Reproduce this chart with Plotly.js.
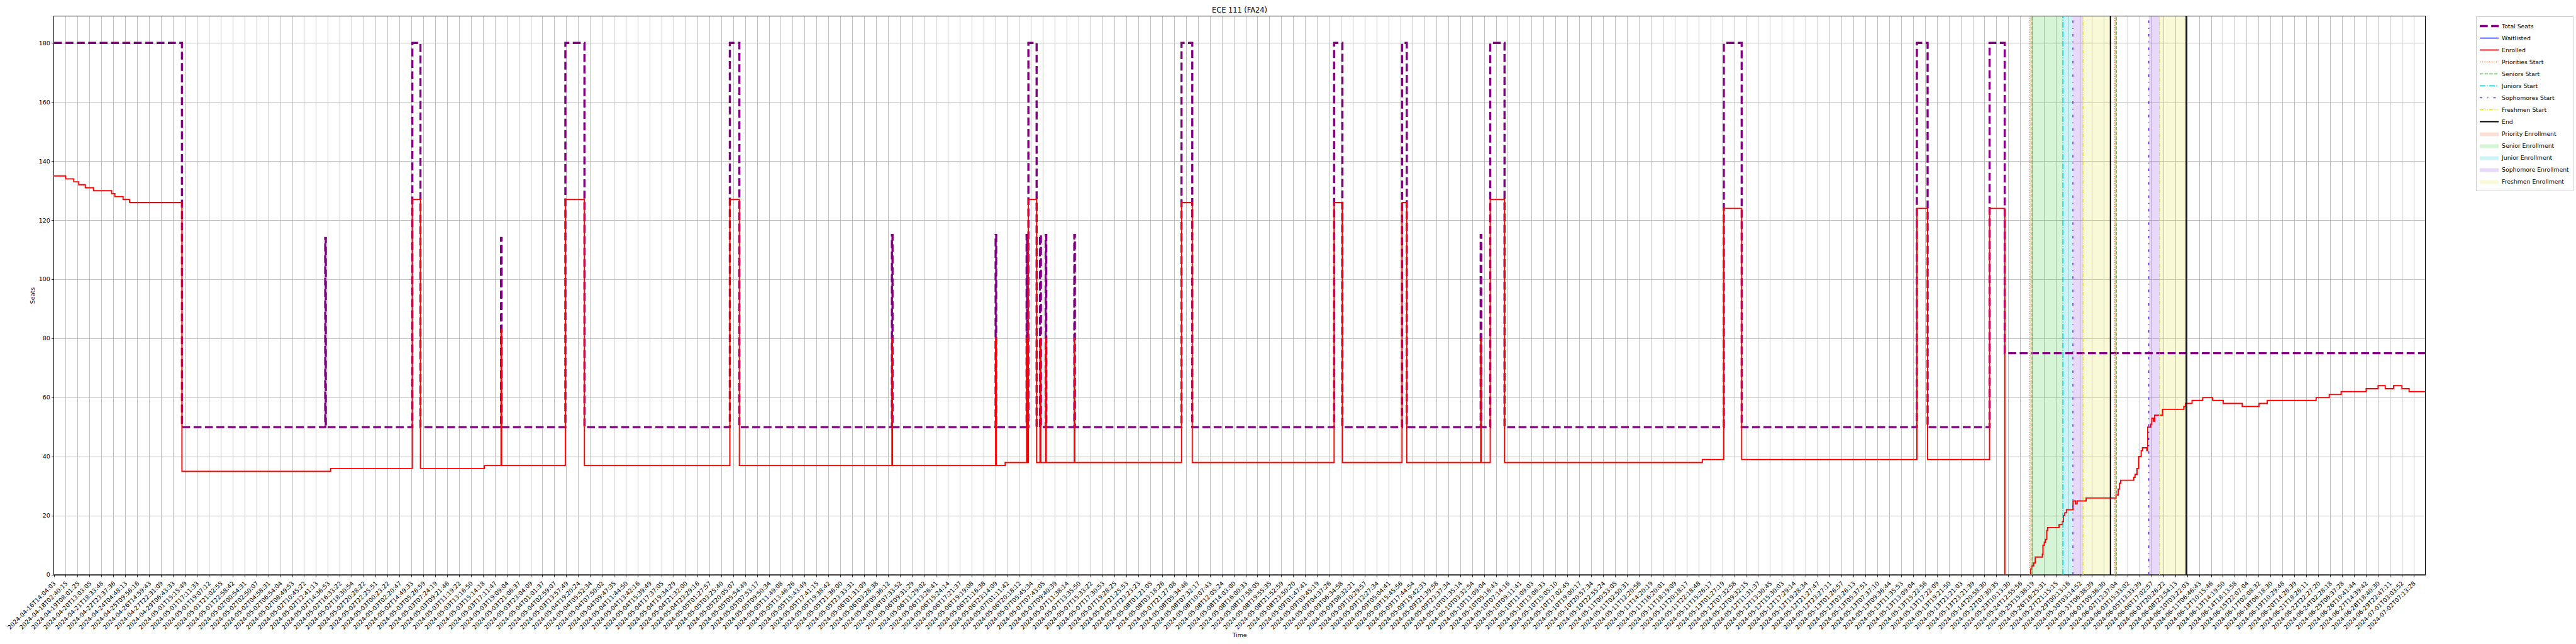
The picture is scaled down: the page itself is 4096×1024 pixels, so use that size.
<!DOCTYPE html>
<html><head><meta charset="utf-8">
<script src="https://cdn.plot.ly/plotly-3.0.1.min.js"></script>
<style>html,body{margin:0;padding:0;background:#fff}#chart{width:4096px;height:1024px}</style>
</head><body><div id="chart"></div>
<script>
const tickLabels = [
"2024-04-16T14:04:03","2024-04-18T02:40:15","2024-04-19T08:01:25","2024-04-20T13:03:05","2024-04-21T18:33:48","2024-04-22T23:37:36","2024-04-24T04:48:13","2024-04-25T09:56:16","2024-04-26T14:59:43","2024-04-27T22:31:09","2024-04-29T06:43:33","2024-05-01T15:15:49","2024-05-01T17:11:33","2024-05-01T19:07:12","2024-05-01T21:02:55","2024-05-01T22:58:42","2024-05-02T00:54:31","2024-05-02T02:50:07","2024-05-02T04:58:31","2024-05-02T06:54:04","2024-05-02T08:49:53","2024-05-02T10:45:22","2024-05-02T12:41:13","2024-05-02T14:36:53","2024-05-02T16:33:22","2024-05-02T18:30:54","2024-05-02T20:28:22","2024-05-02T22:25:51","2024-05-03T00:23:22","2024-05-03T02:20:47","2024-05-02T14:49:33","2024-05-03T05:26:59","2024-05-03T07:24:19","2024-05-03T09:21:46","2024-05-03T11:19:22","2024-05-03T13:16:50","2024-05-03T15:14:18","2024-05-03T17:11:47","2024-05-03T19:09:04","2024-05-03T21:06:37","2024-05-03T23:04:09",
"2024-05-04T01:01:37","2024-05-04T02:59:07","2024-05-03T13:57:49","2024-05-04T19:20:24","2024-05-04T05:52:34","2024-05-04T07:50:02","2024-05-04T09:47:35","2024-05-04T11:44:50","2024-05-04T13:42:16","2024-05-04T15:39:49","2024-05-04T17:37:05","2024-05-04T19:34:29","2024-05-04T21:32:00","2024-05-04T23:29:16","2024-05-05T01:27:57","2024-05-05T03:25:40","2024-05-05T20:05:07","2024-05-05T05:54:49","2024-05-05T07:53:17","2024-05-05T09:50:34","2024-05-05T11:49:08","2024-05-05T13:46:26","2024-05-05T15:43:49","2024-05-05T17:41:15","2024-05-05T19:38:42","2024-05-05T21:36:00","2024-05-05T23:33:31","2024-05-06T01:31:09","2024-05-06T03:28:38","2024-05-06T05:36:12","2024-05-06T07:33:52","2024-05-06T09:31:29","2024-05-06T11:29:02","2024-05-06T13:26:41","2024-05-06T15:24:14","2024-05-06T17:21:37","2024-05-06T19:19:08","2024-05-06T21:16:38","2024-05-06T23:14:09",
"2024-05-07T01:11:42","2024-05-06T20:18:12","2024-05-07T05:45:34","2024-05-07T07:43:05","2024-05-07T09:40:39","2024-05-07T11:38:14","2024-05-07T13:35:50","2024-05-07T15:33:22","2024-05-07T17:30:53","2024-05-07T19:28:25","2024-05-07T21:25:53","2024-05-07T23:23:23","2024-05-08T01:21:05","2024-05-08T03:18:26","2024-05-07T21:27:08","2024-05-08T05:34:46","2024-05-08T07:32:17","2024-05-08T10:07:43","2024-05-08T12:05:24","2024-05-08T14:03:00","2024-05-08T16:00:33","2024-05-08T17:58:05","2024-05-08T19:55:35","2024-05-08T21:52:59","2024-05-08T23:50:20","2024-05-09T01:47:41","2024-05-09T03:45:19","2024-05-09T04:37:26","2024-05-09T06:34:58","2024-05-09T08:32:21","2024-05-09T10:29:57","2024-05-09T12:27:34","2024-05-09T05:04:41","2024-05-09T15:45:56","2024-05-09T17:44:54","2024-05-09T19:42:33","2024-05-09T21:39:58","2024-05-09T23:37:34","2024-05-10T01:35:14","2024-05-10T03:32:54","2024-05-10T11:09:04","2024-05-10T05:16:43","2024-05-10T07:14:16","2024-05-10T09:11:41","2024-05-10T11:09:03","2024-05-10T13:06:33","2024-05-10T15:05:10","2024-05-10T17:02:45","2024-05-10T19:00:17","2024-05-10T20:57:34","2024-05-10T22:55:24","2024-05-11T00:53:05","2024-05-11T02:50:31","2024-05-11T12:20:56","2024-05-11T14:20:19","2024-05-11T16:20:01","2024-05-11T18:19:09","2024-05-11T20:18:17","2024-05-11T22:18:48","2024-05-11T15:26:17","2024-05-13T01:27:19","2024-05-12T07:32:58","2024-05-12T09:32:15","2024-05-12T11:31:37","2024-05-12T13:30:45","2024-05-12T15:30:03","2024-05-12T17:29:14","2024-05-12T19:28:34","2024-05-12T21:27:47","2024-05-12T23:27:11","2024-05-13T01:26:57","2024-05-13T03:26:13","2024-05-13T05:37:51","2024-05-13T07:37:10","2024-05-13T09:36:44","2024-05-13T11:35:53","2024-05-13T13:09:04","2024-05-13T15:22:56","2024-05-13T17:22:09","2024-05-13T19:21:50","2024-05-13T21:21:03","2024-05-13T23:21:39","2024-05-14T20:58:30",
"2024-05-22T07:30:35","2024-05-23T10:13:30","2024-05-24T12:55:56","2024-05-25T15:38:19","2024-05-26T18:25:31","2024-05-27T21:15:15","2024-05-29T00:13:16","2024-05-30T03:14:52","2024-05-31T06:38:39","2024-06-01T09:36:30","2024-06-02T12:37:04","2024-06-03T15:33:02","2024-06-05T13:33:39","2024-06-06T17:02:57","2024-06-07T20:26:22","2024-06-08T23:54:13","2024-06-10T03:22:03","2024-06-11T06:46:43","2024-06-12T10:15:46","2024-06-13T14:19:50","2024-06-14T18:13:58","2024-06-15T22:07:04","2024-06-17T02:08:32","2024-06-18T06:18:30","2024-06-19T10:29:48","2024-06-20T14:26:39","2024-06-21T18:26:11","2024-06-22T22:27:20","2024-06-24T02:28:18","2024-06-25T06:37:28","2024-06-26T10:41:44","2024-06-27T14:39:42","2024-06-28T18:40:30","2024-06-29T22:47:11","2024-07-01T03:03:52","2024-07-02T07:13:28"
];

// x positions are in units of labelled-tick index (step function change points)
const seatsX = [0,10.73,22.75,22.8,30.06,30.74,37.5,37.55,42.9,44.5,56.7,57.5,70.3,70.35,79.0,79.05,81.6,81.65,81.75,82.44,82.72,82.8,83.2,83.25,85.6,85.65,94.6,95.5,107.4,108.1,113.1,113.5,119.7,119.75,120.5,121.7,140.1,141.6,156.3,157.2,162.4,163.67,198.94];
const seatsY = [180,50,114,50,180,50,114,50,180,50,180,50,115,50,115,50,115,50,180,50,115,50,115,50,115,50,180,50,180,50,180,50,115,50,180,50,180,50,180,50,180,75,75];

const enrolledX = [0,0.97,1.65,2.07,2.62,3.31,4.83,5.1,5.79,6.34,10.73,23.2,30.06,30.74,36.1,37.5,37.55,42.9,44.5,56.7,57.5,70.3,70.35,79.0,79.05,79.8,81.6,81.65,81.75,82.44,82.72,82.8,83.2,83.25,85.6,85.65,94.6,95.5,107.4,108.1,113.1,113.5,119.7,119.75,120.5,121.7,138.3,140.1,141.6,156.3,157.2,162.4,163.68,
165.85,165.96,166.10,166.23,166.83,166.88,166.99,167.09,167.2,167.27,168.23,168.51,168.60,168.71,168.85,169.40,169.61,169.75,170.5,173.02,173.19,173.29,173.4,174.5,174.61,174.77,174.91,175.12,175.23,175.6,175.67,175.92,176.01,176.15,176.25,176.91,178.7,178.84,179.39,180.28,181.11,182.0,183.6,185.0,185.7,189.8,190.9,191.9,194.0,195.0,195.6,196.3,197.0,197.6,198.94];
const enrolledY = [135,134,133,132,131,130,129,128,127,126,35,36,127,36,37,83,37,127,37,127,37,80,37,80,37,38,80,38,127,38,80,38,80,38,80,38,126,38,126,38,126,38,80,38,127,38,39,124,39,124,39,124,0,
2,3,4,6,7,10,11,12,15,16,17,18,20,21,22,25,24,25,26,27,29,31,32,33,34,36,40,42,43,42,50,51,53,52,54,56,57,58,59,60,59,58,57,58,59,60,61,62,63,64,63,64,63,62,62];

const waitX = [0,198.94];
const waitY = [0,0];

const prioritiesStart = [165.78,172.91];
const seniorsStart = [165.97,173.04];
const juniorsStart = [168.55];
const sophomoresStart = [169.39,175.76];
const freshmenStart = [170.24,176.66];
const endTimes = [172.54,178.9];

const priorityEnrollment = [[165.78,165.97],[172.91,173.04]];
const seniorEnrollment = [[165.97,168.55]];
const juniorEnrollment = [[168.55,169.39]];
const sophomoreEnrollment = [[169.39,170.24],[175.76,176.66]];
const freshmenEnrollment = [[170.24,172.54],[176.66,178.9]];

const YMAX = 189;
const XMAX = 198.94;
const FONT = 'DejaVu Sans, Liberation Sans, sans-serif';

function vlines(xs){const x=[],y=[];xs.forEach(v=>{x.push(v,v,null);y.push(0,YMAX,null);});return {x,y};}
function spans(list){const x=[],y=[];list.forEach(([a,b])=>{x.push(a,b,b,a,a,null);y.push(0,0,YMAX,YMAX,0,null);});return {x,y};}

const traces = [];
function spanTrace(name,list,color,rank){const s=spans(list);traces.push({x:s.x,y:s.y,type:'scatter',mode:'lines',fill:'toself',fillcolor:color,line:{width:0,color:color},name,legendrank:rank,hoverinfo:'skip'});}
spanTrace('Priority Enrollment',priorityEnrollment,'rgba(240,110,60,0.22)',10);
spanTrace('Senior Enrollment',seniorEnrollment,'rgba(50,205,50,0.2)',11);
spanTrace('Junior Enrollment',juniorEnrollment,'rgba(0,200,210,0.2)',12);
spanTrace('Sophomore Enrollment',sophomoreEnrollment,'rgba(138,60,226,0.2)',13);
spanTrace('Freshmen Enrollment',freshmenEnrollment,'rgba(225,225,60,0.2)',14);

traces.push({x:seatsX,y:seatsY,type:'scatter',mode:'lines',line:{shape:'hv',color:'#800080',width:3.4,dash:'12.6px,5.5px'},name:'Total Seats',legendrank:1});
traces.push({x:waitX,y:waitY,type:'scatter',mode:'lines',line:{color:'#0000ff',width:1.4},name:'Waitlisted',legendrank:2});
traces.push({x:enrolledX,y:enrolledY,type:'scatter',mode:'lines',line:{shape:'hv',color:'#ff0000',width:1.9},name:'Enrolled',legendrank:3});

function vTrace(name,xs,color,dash,width,rank){const v=vlines(xs);traces.push({x:v.x,y:v.y,type:'scatter',mode:'lines',line:{color,dash,width},name,legendrank:rank});}
vTrace('Priorities Start',prioritiesStart,'#f06a30','1.4px,2.3px',1.4,4);
vTrace('Seniors Start',seniorsStart,'#3ccc22','5.3px,2.3px',1.4,5);
vTrace('Juniors Start',juniorsStart,'#00c0c8','9px,2.3px,1.4px,2.3px',1.4,6);
vTrace('Sophomores Start',sophomoresStart,'#6420e0','4px,8px,1.4px,8px',1.4,7);
vTrace('Freshmen Start',freshmenStart,'#dcdc30','6px,2px,1.4px,2px,1.4px,2px',1.4,8);
vTrace('End',endTimes,'#000000','solid',2,9);

const tickvals = tickLabels.map((_,i)=>i);

const layout = {
  width:4096,height:1024,
  margin:{l:86,r:240,t:26,b:110,pad:0,autoexpand:false},
  paper_bgcolor:'#fff',plot_bgcolor:'#fff',
  font:{family:FONT,size:9.5,color:'#000'},
  title:{text:'ECE 111 (FA24)',font:{family:FONT,size:11.4,color:'#000'},xref:'paper',x:0.5,xanchor:'center',yref:'container',y:0.9845,yanchor:'middle'},
  showlegend:true,
  legend:{x:1.0215,y:1,xanchor:'left',yanchor:'top',bgcolor:'rgba(255,255,255,0.8)',bordercolor:'#cccccc',borderwidth:1,font:{family:FONT,size:9.3,color:'#000'},itemwidth:30,traceorder:'normal'},
  xaxis:{range:[0,XMAX],tickmode:'array',tickvals:tickvals,ticktext:tickLabels,tickangle:-45,
    showgrid:true,gridcolor:'#b0b0b0',gridwidth:0.8,zeroline:false,
    showline:true,linecolor:'#000',linewidth:1,mirror:true,
    ticks:'outside',ticklen:3.3,tickwidth:0.8,tickcolor:'#000',
    tickfont:{family:FONT,size:9.5,color:'#000'},automargin:false,
    title:{text:'Time',font:{family:FONT,size:9.5,color:'#000'},standoff:4}},
  yaxis:{range:[0,YMAX],tickmode:'array',tickvals:[0,20,40,60,80,100,120,140,160,180],
    showgrid:true,gridcolor:'#b0b0b0',gridwidth:0.8,zeroline:false,
    showline:true,linecolor:'#000',linewidth:1,mirror:true,
    ticks:'outside',ticklen:3.3,tickwidth:0.8,tickcolor:'#000',
    tickfont:{family:FONT,size:9.5,color:'#000'},automargin:false,
    title:{text:'Seats',font:{family:FONT,size:9.5,color:'#000'},standoff:4}}
};

Plotly.newPlot('chart',traces,layout,{staticPlot:true,displayModeBar:false});
</script></body></html>
